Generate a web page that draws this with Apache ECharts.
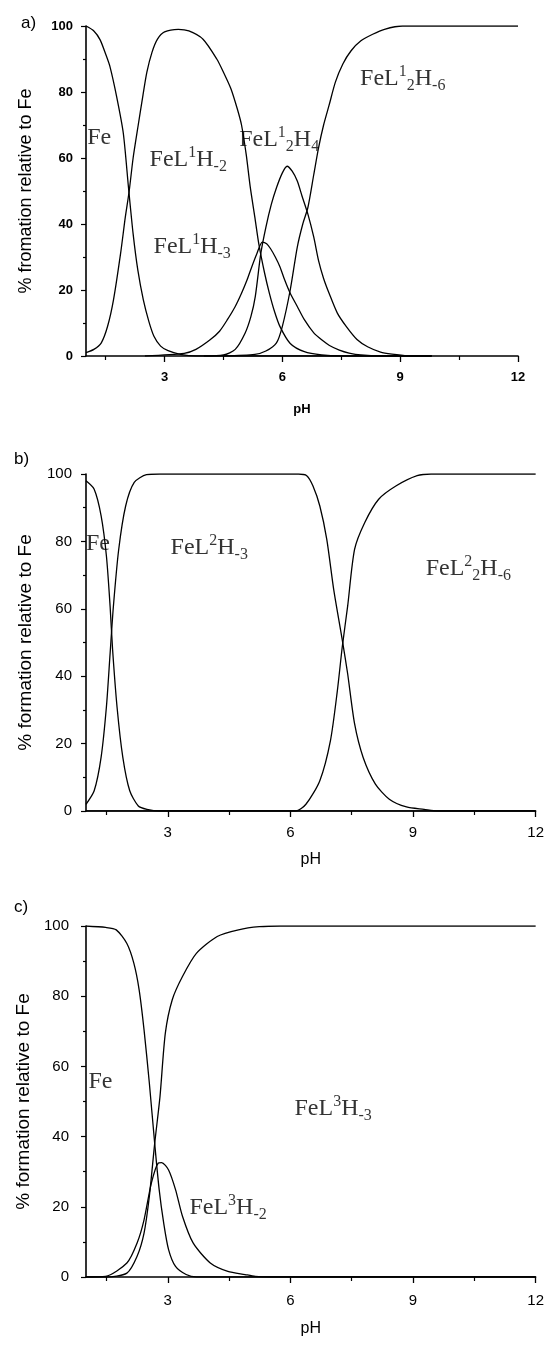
<!DOCTYPE html>
<html>
<head>
<meta charset="utf-8">
<script src="https://cdn.jsdelivr.net/npm/echarts@6/dist/echarts.min.js"></script>
<style>
  html, body { margin: 0; padding: 0; background: #fff; }
  #chart { width: 547px; height: 1345px; }
</style>
</head>
<body>
<div id="chart"></div>
<script>
// ---- data: [pH, % formation] ----
// panel a (ligand L1)
var feA = [[1,100],[1.2,98.5],[1.36,95.8],[1.5,91.5],[1.61,87.7],[1.78,78.6],[1.95,67.5],[2.08,51.3],[2.2,37],[2.32,26],[2.46,17],[2.6,10.5],[2.73,6],[2.9,3],[3.09,1.6],[3.4,0.5],[3.8,0],[9.8,0]];
var feL1H2A = [[1,1],[1.2,2],[1.39,4],[1.55,9],[1.7,17],[1.88,31],[2.0,42],[2.1,50],[2.2,60],[2.33,70],[2.45,79],[2.55,86],[2.68,92],[2.82,96],[3.0,98.2],[3.35,99],[3.62,98.5],[3.98,96],[4.33,90],[4.5,86],[4.69,81],[4.85,75],[4.96,70],[5.08,61],[5.18,51.4],[5.3,42],[5.4,34],[5.55,25],[5.67,19],[5.8,13.5],[5.94,8.9],[6.2,3.8],[6.56,1.3],[7,0.3],[7.5,0],[9.8,0]];
var feL1H3A = [[2.5,0],[3.5,0.8],[3.8,2],[4.16,4.9],[4.4,7.5],[4.6,11],[4.8,15],[4.96,19],[5.1,23],[5.22,27],[5.35,31],[5.49,34.5],[5.6,34],[5.7,32.5],[5.82,30],[5.94,27],[6.06,23],[6.2,19],[6.38,15],[6.56,11],[6.8,7],[7.0,4.9],[7.2,3.2],[7.45,1.8],[7.7,0.9],[8,0.3],[8.5,0],[9.8,0]];
var feL12H4A = [[4,0],[4.5,0.3],[4.8,2],[5.05,6.9],[5.2,12],[5.31,18],[5.45,31],[5.58,39],[5.72,46],[5.85,51],[6.0,55.5],[6.12,57.5],[6.25,56],[6.38,53],[6.5,48.5],[6.65,43],[6.8,36],[6.92,29],[7.05,23.5],[7.19,19],[7.4,13],[7.63,8.9],[7.9,5],[8.17,2.8],[8.5,1.2],[8.79,0.6],[9.2,0.1],[9.8,0]];
var feL12H6A = [[4.5,0],[5.3,0.5],[5.58,1.5],[5.85,4],[6.0,9],[6.2,20],[6.38,33],[6.52,40],[6.65,45],[6.8,55],[6.92,63],[7.05,70],[7.19,76],[7.35,83],[7.54,88.5],[7.75,92.5],[8,95.5],[8.3,97.5],[8.6,99],[9.06,100],[12,100]];

// panel b (ligand L2)
var feB = [[1,98],[1.2,95.5],[1.37,87.6],[1.5,75.6],[1.59,60.7],[1.65,48],[1.76,30.8],[1.9,16],[2.07,6],[2.28,1.5],[2.49,0.5],[2.8,0],[12,0]];
var feL2H3B = [[1,2],[1.2,6],[1.37,16],[1.5,31],[1.59,46.8],[1.67,60.7],[1.8,77.6],[1.97,90.5],[2.18,97.5],[2.48,99.8],[2.8,100],[6.2,100],[6.4,99.5],[6.55,96.5],[6.72,90.5],[6.89,80.6],[7.06,65.7],[7.27,50.7],[7.4,40.8],[7.57,25.9],[7.78,15.9],[8.08,8],[8.42,3.5],[8.84,1.2],[9.27,0.5],[9.6,0],[12,0]];
var feL22H6B = [[1,0],[6.13,0],[6.38,2],[6.72,9],[6.98,20.9],[7.15,35.8],[7.27,48.8],[7.4,60.7],[7.57,77.6],[7.82,85.6],[8.16,92.5],[8.59,96.5],[9.1,99.5],[9.44,100],[12,100]];

// panel c (ligand L3)
var feC = [[1,100],[1.48,99.6],[1.74,98.9],[2.0,95],[2.17,89.4],[2.3,81.8],[2.42,70.4],[2.55,55.2],[2.68,38.1],[2.79,24.9],[2.9,15.4],[3.02,7.8],[3.19,3],[3.45,0.7],[3.7,0],[12,0]];
var feL3H3C = [[1,0],[1.48,0],[2.0,1.1],[2.25,5.9],[2.42,12.5],[2.55,23],[2.68,38],[2.81,51.4],[2.94,69.4],[3.11,79],[3.36,85.6],[3.7,92.2],[4.21,97],[4.73,98.9],[5.24,99.8],[5.75,100],[12,100]];
var feL3H2C = [[1,0],[1.48,0.2],[2.0,4],[2.25,9.7],[2.42,16.3],[2.6,26.8],[2.77,32.5],[2.85,32.6],[3.02,30.5],[3.19,24.9],[3.36,17.3],[3.62,9.7],[4.04,4],[4.47,1.6],[4.89,0.7],[5.14,0.2],[5.5,0],[12,0]];

// species labels, anchored at [pH, %]
var labelsA = [[1.03, 66, '{m|Fe}'], [2.62, 59.5, '{m|FeL}{sup|1}{m|H}{sub|-2}'], [4.9, 65.5, '{m|FeL}{sup|1}{sub|2}{m|H}{sub|4}'], [2.72, 33, '{m|FeL}{sup|1}{m|H}{sub|-3}'], [7.98, 84, '{m|FeL}{sup|1}{sub|2}{m|H}{sub|-6}']];
var labelsB = [[1.0, 79.4, '{m|Fe}'], [3.07, 78, '{m|FeL}{sup|2}{m|H}{sub|-3}'], [9.31, 72, '{m|FeL}{sup|2}{sub|2}{m|H}{sub|-6}']];
var labelsC = [[1.06, 55.7, '{m|Fe}'], [6.1, 48, '{m|FeL}{sup|3}{m|H}{sub|-3}'], [3.53, 19.7, '{m|FeL}{sup|3}{m|H}{sub|-2}']];

var majorX = [3, 6, 9, 12];
var minorX = [1.5, 4.5, 7.5, 10.5];
var yNames = ['% fromation relative to Fe', '% formation relative to Fe', '% formation relative to Fe'];
var panelTags = ['a)', 'b)', 'c)'];

var panels = [
  { grid: { left: 86, top: 26, width: 432, height: 330 }, bold: true, nameGapX: 47, xMargin: 15, yMargin: 13, tagLeft: 16, tagTop: 10, nameSize: 18,
    curves: [feA, feL1H2A, feL1H3A, feL12H4A, feL12H6A], labels: labelsA },
  { grid: { left: 86, top: 474, width: 454, height: 337 }, bold: false, nameGapX: 41, xMargin: 14, yMargin: 14, tagLeft: 9, tagTop: 446, nameSize: 19,
    curves: [feB, feL2H3B, feL22H6B], labels: labelsB },
  { grid: { left: 86, top: 926, width: 454, height: 351 }, bold: false, nameGapX: 44, xMargin: 16, yMargin: 17, tagLeft: 9, tagTop: 894, nameSize: 19,
    curves: [feC, feL3H3C, feL3H2C], labels: labelsC }
];

var black = '#000';
var sans = 'Liberation Sans, Arial, sans-serif';
var serif = 'Liberation Serif, Times New Roman, serif';
var richStyle = {
  m: { fontFamily: serif, fontSize: 24, lineHeight: 30, color: black },
  sup: { fontFamily: serif, fontSize: 16, lineHeight: 21, verticalAlign: 'top', color: black },
  sub: { fontFamily: serif, fontSize: 16, lineHeight: 16, verticalAlign: 'bottom', color: black }
};

var grids = [], xAxes = [], yAxes = [], series = [], titles = [];
panels.forEach(function (p, i) {
  var tickFont = { color: black, fontFamily: sans, fontSize: p.bold ? 13 : 15, fontWeight: p.bold ? 'bold' : 'normal' };
  grids.push(p.grid);
  titles.push({ text: panelTags[i], left: p.tagLeft, top: p.tagTop, textStyle: { fontFamily: sans, fontSize: 17, fontWeight: 'normal', color: black } });
  // major x axis (labels + long ticks)
  xAxes.push({
    gridIndex: i, type: 'value', min: 1, max: 12, position: 'bottom',
    name: 'pH', nameLocation: 'middle', nameGap: p.nameGapX,
    nameTextStyle: { color: black, fontFamily: sans, fontSize: p.bold ? 13 : 16, fontWeight: p.bold ? 'bold' : 'normal' },
    axisLine: { onZero: false, lineStyle: { color: black, width: 1.6 } },
    axisTick: { customValues: majorX, length: 6, lineStyle: { color: black, width: 1.3 } },
    axisLabel: Object.assign({ customValues: majorX, margin: p.xMargin }, tickFont),
    splitLine: { show: false }
  });
  // minor x ticks
  xAxes.push({
    gridIndex: i, type: 'value', min: 1, max: 12, position: 'bottom',
    axisLine: { show: false, onZero: false },
    axisTick: { customValues: minorX, length: 4, lineStyle: { color: black, width: 1.2 } },
    axisLabel: { show: false },
    splitLine: { show: false }
  });
  yAxes.push({
    gridIndex: i, type: 'value', min: 0, max: 100, interval: 20,
    name: yNames[i], nameLocation: 'middle', nameGap: 51,
    nameTextStyle: { color: black, fontFamily: sans, fontSize: p.nameSize },
    axisLine: { show: true, onZero: false, lineStyle: { color: black, width: 1.6 } },
    axisTick: { show: true, length: 5, lineStyle: { color: black, width: 1.2 } },
    minorTick: { show: true, splitNumber: 2, length: 3, lineStyle: { color: black, width: 1.2 } },
    axisLabel: Object.assign({ margin: p.yMargin }, tickFont),
    splitLine: { show: false }
  });
  p.curves.forEach(function (d) {
    series.push({
      type: 'line', xAxisIndex: 2 * i, yAxisIndex: i, data: d,
      showSymbol: false, smooth: 0.25, silent: true,
      lineStyle: { color: black, width: 1.3 }
    });
  });
  series.push({
    type: 'scatter', xAxisIndex: 2 * i, yAxisIndex: i, symbolSize: 0, silent: true,
    data: p.labels.map(function (l) { return { value: [l[0], l[1]], text: l[2] }; }),
    label: {
      show: true, position: 'inside', align: 'left', verticalAlign: 'middle',
      formatter: function (prm) { return prm.data.text; },
      rich: richStyle
    }
  });
});

var chart = echarts.init(document.getElementById('chart'), null, { renderer: 'canvas' });
chart.setOption({
  backgroundColor: '#fff',
  animation: false,
  title: titles,
  grid: grids,
  xAxis: xAxes,
  yAxis: yAxes,
  series: series
});
</script>
</body>
</html>
